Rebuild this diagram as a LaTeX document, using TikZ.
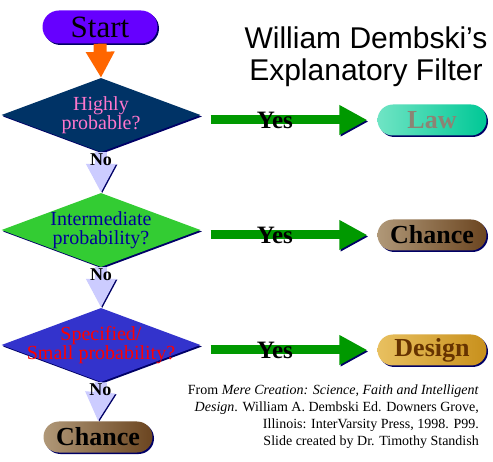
\documentclass[tikz,border=0pt]{standalone}
\usepackage{fontspec}
\setmainfont{Liberation Serif}
\newfontfamily\titlefont{Liberation Sans}
\usetikzlibrary{shapes.geometric,shapes.misc,arrows.meta,shadows}

\definecolor{startpurple}{HTML}{6600FF}
\definecolor{startorange}{HTML}{FF6600}
\definecolor{darknavy}{HTML}{003366}
\definecolor{shadownavy}{HTML}{000066}
\definecolor{nolilac}{HTML}{CCCCFF}
\definecolor{yesgreen}{HTML}{009900}
\definecolor{midgreen}{HTML}{33CC33}
\definecolor{lowblue}{HTML}{3333CC}
\definecolor{lawlight}{HTML}{70E4C4}
\definecolor{lawdark}{HTML}{00C896}
\definecolor{lawtext}{HTML}{8C8474}
\definecolor{chancelight}{HTML}{B09878}
\definecolor{chancedark}{HTML}{6B4520}
\definecolor{designlight}{HTML}{E8C060}
\definecolor{designdark}{HTML}{C8901C}
\definecolor{designtext}{HTML}{663300}
\definecolor{pinktext}{HTML}{FF77CC}
\definecolor{bluetext}{HTML}{000099}

\tikzset{
  navyshadow/.style={drop shadow={shadow xshift=1.5pt,shadow yshift=-1.5pt,fill=shadownavy,opacity=1}},
  terminal/.style={rounded rectangle,minimum width=109pt,minimum height=31pt,inner sep=0pt,
    navyshadow,font=\fontsize{26}{26}\selectfont\bfseries},
  question/.style={diamond,minimum width=199pt,minimum height=74pt,inner sep=0pt,navyshadow},
  questiontext/.style={align=center,font=\fontsize{20}{19}\selectfont},
  yesarrow/.style={line width=9pt,draw=yesgreen,-{Triangle[length=28pt,width=28pt]},
    shorten <=10pt,shorten >=10pt,
    preaction={draw=shadownavy,transform canvas={xshift=1.2pt,yshift=-1.5pt}}},
  yeslabel/.style={font=\fontsize{25}{25}\selectfont\bfseries,pos=0.42},
  noarrow/.style={line width=12pt,draw=nolilac,-{Triangle[length=29pt,width=28pt]},
    preaction={draw=shadownavy,transform canvas={xshift=1.2pt,yshift=-0.8pt}}},
  nolabel/.style={font=\fontsize{18}{18}\selectfont\bfseries,pos=0.18}
}

\begin{document}
\begin{tikzpicture}[x=1pt,y=-1pt]
  \useasboundingbox[fill=white] (0,0) rectangle (493,462);

  % left column
  \node[terminal,fill=startpurple,minimum width=115pt,minimum height=33pt,
    font=\fontsize{31}{31}\selectfont] (start) at (100,27) {Start};
  \node[question,fill=darknavy,
    label={[questiontext,text=pinktext]center:Highly\\probable?}] (q1) at (101,115) {};
  \node[question,fill=midgreen,
    label={[questiontext,text=bluetext]center:Intermediate\\probability?}] (q2) at (101,230) {};
  \node[question,fill=lowblue,
    label={[questiontext,text=red]center:Specified/\\Small probability?}] (q3) at (101,345) {};
  \node[terminal,shading=axis,left color=chancelight,right color=chancedark] (end) at (98,437) {Chance};

  % right column
  \node[terminal,shading=axis,left color=lawlight,right color=lawdark,text=lawtext] (law) at (432,120) {Law};
  \node[terminal,shading=axis,left color=chancelight,right color=chancedark] (chance) at (432,235) {Chance};
  \node[terminal,shading=axis,left color=designlight,right color=designdark,text=designtext] (design) at (432,350) {Design};

  % arrows
  \draw[line width=13pt,draw=startorange,-{Triangle[length=26pt,width=27pt]}] (start.south) -- (q1.north);
  \foreach \a/\b in {q1/q2,q2/q3,q3/end} {
    \draw[noarrow] (\a.south) -- node[nolabel] {No} (\b.north);
  }
  \foreach \q/\t in {q1/law,q2/chance,q3/design} {
    \draw[yesarrow] ([yshift=-5pt]\q.east) -- node[yeslabel] {Yes} (\t.west);
  }

  % title and source
  \node[font=\titlefont\fontsize{30}{32}\selectfont,align=center] (title) at (366,57)
    {William Dembski’s\\Explanatory Filter};
  \node[anchor=north east,align=right,inner sep=0pt,font=\fontsize{14}{17}\selectfont] (source) at (479,385)
    {From \textit{Mere Creation: Science, Faith and Intelligent}\\
     \textit{Design}. William A. Dembski Ed. Downers Grove,\\
     Illinois: InterVarsity Press, 1998. P99.\\
     Slide created by Dr. Timothy Standish};
\end{tikzpicture}
\end{document}
